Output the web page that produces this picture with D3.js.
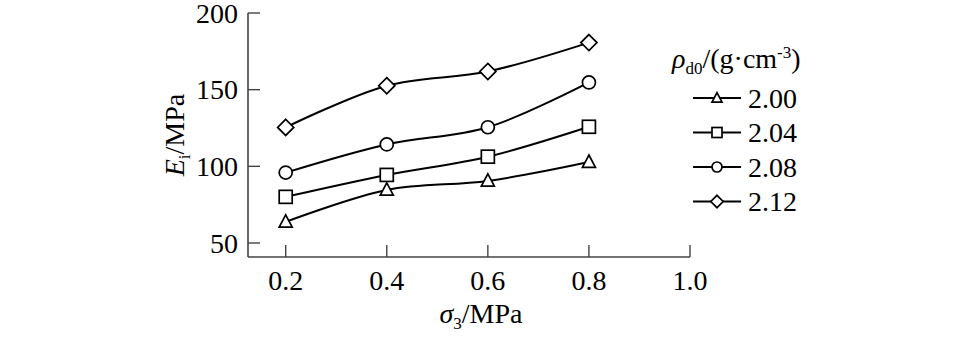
<!DOCTYPE html>
<html><head><meta charset="utf-8">
<script src="https://cdn.jsdelivr.net/npm/d3@7"></script>
<style>body{margin:0;background:#fff}svg{display:block}text{font-family:"Liberation Serif","Times New Roman",serif;fill:#000}</style>
</head><body>
<svg id="c" width="957" height="343"></svg>
<script>
const xValues = [0.2, 0.4, 0.6, 0.8];
const seriesNames = ["2.00", "2.04", "2.08", "2.12"];
const seriesSymbols = ["triangle", "square", "circle", "diamond"];
const s200 = [63.8, 84.6, 90.5, 102.8];
const s204 = [80.1, 94.4, 106.3, 125.8];
const s208 = [95.9, 114.3, 125.5, 154.7];
const s212 = [125.4, 152.6, 161.9, 180.7];
const seriesValues = [s200, s204, s208, s212];
const xTicks = [0.2, 0.4, 0.6, 0.8, 1.0];
const yTicks = [50, 100, 150, 200];

const svg = d3.select("#c");
const x = d3.scaleLinear().domain([0.2, 1.0]).range([285.7, 690]);
const y = d3.scaleLinear().domain([50, 200]).range([243, 13]);
const x0 = 248, yb = 257;
const axCol = "#444";
const fs = 28;

svg.append("line").attr("x1", x0).attr("x2", x0).attr("y1", y(200)).attr("y2", yb).attr("stroke", axCol).attr("stroke-width", 1.6);
svg.append("line").attr("x1", x0).attr("x2", x(1.0)).attr("y1", yb).attr("y2", yb).attr("stroke", axCol).attr("stroke-width", 1.6);

const yAxis = svg.append("g");
yTicks.forEach(t => {
  yAxis.append("line").attr("x1", x0).attr("x2", x0 + 12).attr("y1", y(t)).attr("y2", y(t)).attr("stroke", axCol).attr("stroke-width", 1.4);
  yAxis.append("text").attr("x", 238).attr("y", y(t)).attr("dy", "0.34em").attr("text-anchor", "end").attr("font-size", fs).text(t);
});
const xAxis = svg.append("g");
xTicks.forEach(t => {
  xAxis.append("line").attr("x1", x(t)).attr("x2", x(t)).attr("y1", yb).attr("y2", yb - 12).attr("stroke", axCol).attr("stroke-width", 1.4);
  xAxis.append("text").attr("x", x(t)).attr("y", 290).attr("text-anchor", "middle").attr("font-size", fs).text(d3.format(".1f")(t));
});

const xt = svg.append("text").attr("x", 481).attr("y", 323).attr("text-anchor", "middle").attr("font-size", fs);
xt.append("tspan").attr("font-style", "italic").text("σ");
xt.append("tspan").attr("font-size", 17).attr("dy", 6).text("3");
xt.append("tspan").attr("dy", -6).text("/MPa");

const yt = svg.append("text").attr("transform", "translate(184,135) rotate(-90)").attr("text-anchor", "middle").attr("font-size", fs);
yt.append("tspan").attr("font-style", "italic").text("E");
yt.append("tspan").attr("font-size", 17).attr("dy", 6).text("i");
yt.append("tspan").attr("dy", -6).text("/MPa");

function marker(g, type, cx, cy, s) {
  let el;
  if (type === "circle") el = g.append("circle").attr("cx", cx).attr("cy", cy).attr("r", s * 0.5);
  else if (type === "square") el = g.append("rect").attr("x", cx - s / 2).attr("y", cy - s / 2).attr("width", s).attr("height", s);
  else if (type === "diamond") {
    const h = s * 0.62;
    el = g.append("path").attr("d", `M${cx},${cy - h}L${cx + h},${cy}L${cx},${cy + h}L${cx - h},${cy}Z`);
  } else {
    const h = s * 0.9;
    el = g.append("path").attr("d", `M${cx},${cy - h * 0.6}L${cx + s / 2},${cy + h * 0.45}L${cx - s / 2},${cy + h * 0.45}Z`);
  }
  el.attr("fill", "#fff").attr("stroke", "#000").attr("stroke-width", 1.7);
}

const line = d3.line().x((d, i) => x(xValues[i])).y(d => y(d)).curve(d3.curveCatmullRom.alpha(0.5));
seriesValues.forEach((vals) => {
  svg.append("path").attr("d", line(vals)).attr("fill", "none").attr("stroke", "#000").attr("stroke-width", 2);
});
seriesValues.forEach((vals, k) => {
  const g = svg.append("g");
  vals.forEach((v, i) => marker(g, seriesSymbols[k], x(xValues[i]), y(v), 13));
});

const lt = svg.append("text").attr("x", 672).attr("y", 68).attr("font-size", fs);
lt.append("tspan").attr("font-style", "italic").text("ρ");
lt.append("tspan").attr("font-size", 17).attr("dy", 6).text("d0");
lt.append("tspan").attr("dy", -6).text("/(g·cm");
lt.append("tspan").attr("font-size", 17).attr("dy", -10).text("-3");
lt.append("tspan").attr("dy", 10).text(")");

seriesNames.forEach((n, k) => {
  const ly = 98 + k * 34.5;
  const g = svg.append("g");
  g.append("line").attr("x1", 693).attr("x2", 741).attr("y1", ly).attr("y2", ly).attr("stroke", "#000").attr("stroke-width", 2);
  marker(g, seriesSymbols[k], 717, ly, 10);
  g.append("text").attr("x", 748).attr("y", ly).attr("dy", "0.34em").attr("font-size", fs).text(n);
});
</script>
</body></html>
